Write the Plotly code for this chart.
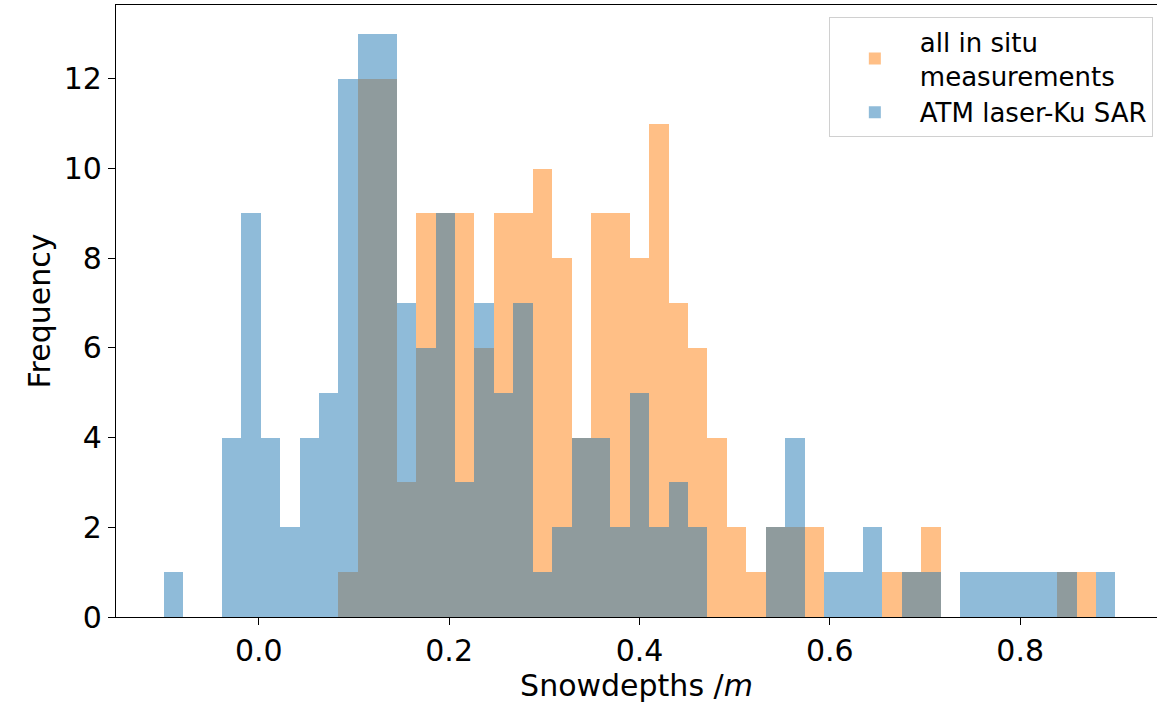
import numpy as np
import plotly.graph_objects as go

# Histogram bin edges (shared by both series)
bin_start = -0.1
bin_stop = 0.9
n_bins = 49

# Counts per bin, in situ measurements (orange)
insitu_counts = [0, 0, 0, 0, 0, 0, 0, 0, 0, 1,
                 12, 12, 3, 9, 9, 9, 6, 9, 9, 10,
                 8, 4, 9, 9, 8, 11, 7, 6, 4, 2,
                 1, 2, 2, 2, 0, 0, 0, 1, 1, 2,
                 0, 0, 0, 0, 0, 0, 1, 1, 0]

# Counts per bin, ATM laser-Ku SAR (blue)
atm_counts = [1, 0, 0, 4, 9, 4, 2, 4, 5, 12,
              13, 13, 7, 6, 9, 3, 7, 5, 7, 1,
              2, 4, 4, 2, 5, 2, 3, 2, 0, 0,
              0, 2, 4, 0, 1, 1, 2, 0, 1, 1,
              0, 1, 1, 1, 1, 1, 1, 0, 1]

series_names = ["all in situ<br>measurements", "ATM laser-Ku SAR"]
x_ticks = [0.0, 0.2, 0.4, 0.6, 0.8]
y_ticks = [0, 2, 4, 6, 8, 10, 12]

edges = np.linspace(bin_start, bin_stop, n_bins + 1)
width = edges[1] - edges[0]
centers = (edges[:-1] + edges[1:]) / 2

FONT = "DejaVu Sans"

fig = go.Figure()
fig.add_trace(go.Bar(x=centers, y=insitu_counts, width=width,
                     name=series_names[0],
                     marker=dict(color="rgba(255,127,14,0.5)", line=dict(width=0))))
fig.add_trace(go.Bar(x=centers, y=atm_counts, width=width,
                     name=series_names[1],
                     marker=dict(color="rgba(31,119,180,0.5)", line=dict(width=0))))

fig.update_layout(
    width=1157, height=703,
    margin=dict(l=116, r=0, t=5, b=86),
    barmode="overlay", bargap=0,
    plot_bgcolor="white", paper_bgcolor="white",
    font=dict(family=FONT, size=30, color="black"),
    legend=dict(x=0.996, y=0.98, xanchor="right", yanchor="top",
                bgcolor="rgba(255,255,255,0.8)", bordercolor="#d0d0d0", borderwidth=1,
                font=dict(family=FONT, size=26, color="black"),
                itemwidth=80, tracegroupgap=0),
    showlegend=True,
)
fig.update_xaxes(range=[-0.15, 0.9437], tickvals=x_ticks, tickformat=".1f",
                 ticks="outside", ticklen=7, tickwidth=1.3, tickcolor="black",
                 showline=True, linecolor="black", linewidth=1.3, mirror=True,
                 showgrid=False, zeroline=False,
                 tickfont=dict(family=FONT, size=30),
                 title=dict(text="Snowdepths /<i>m</i>", font=dict(family=FONT, size=30), standoff=9))
fig.update_yaxes(range=[0, 13.65], tickvals=y_ticks,
                 ticks="outside", ticklen=7, tickwidth=1.3, tickcolor="black",
                 showline=True, linecolor="black", linewidth=1.3, mirror=False,
                 showgrid=False, zeroline=False,
                 tickfont=dict(family=FONT, size=30),
                 title=dict(text="Frequency", font=dict(family=FONT, size=30), standoff=4))

fig.write_html("out.html")
